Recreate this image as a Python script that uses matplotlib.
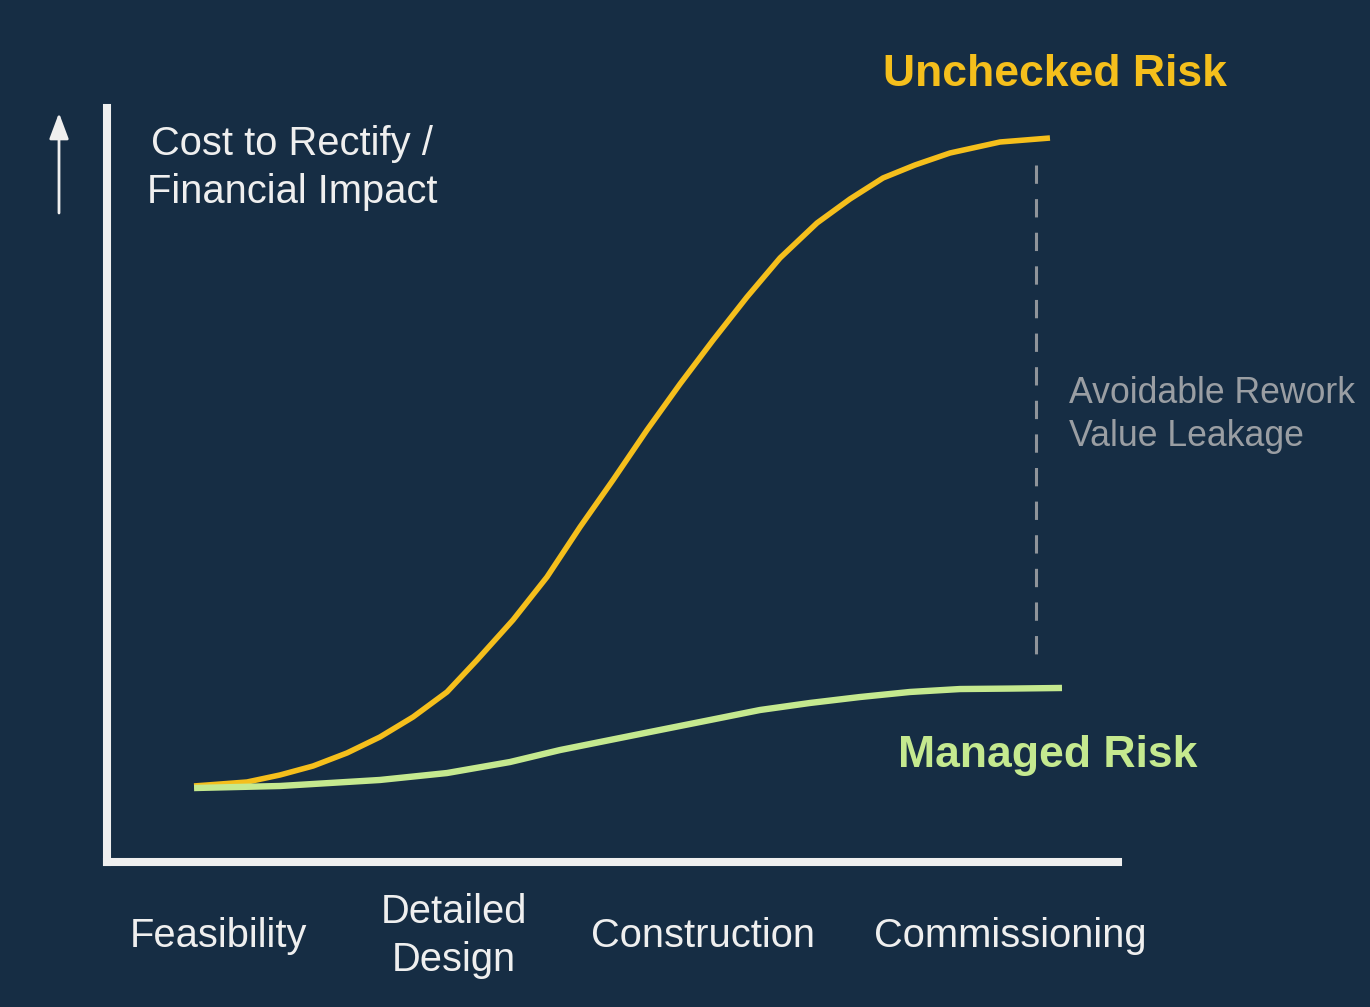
import matplotlib
matplotlib.use("Agg")
import matplotlib.pyplot as plt
from matplotlib.patches import FancyArrowPatch

# ---- data (project progress % vs cost index) ----
unchecked_x = [8.61, 13.85, 17.11, 20.38, 23.74, 27.00, 30.27, 33.63, 36.60, 40.16, 43.52, 46.79,
               50.05, 53.41, 56.68, 59.94, 63.30, 66.57, 70.23, 73.49, 76.76, 79.92, 83.38, 88.33, 93.27]
unchecked_y = [10.08, 10.61, 11.54, 12.73, 14.46, 16.58, 19.23, 22.55, 26.79, 32.10, 37.80, 44.43,
               50.66, 57.29, 63.40, 69.20, 74.93, 80.11, 84.75, 87.93, 90.72, 92.44, 94.03, 95.49, 96.02]

managed_x = [8.61, 17.11, 27.00, 33.63, 39.86, 44.81, 49.75, 54.70, 59.64, 64.59, 69.53, 74.48,
             79.43, 84.37, 89.32, 94.46]
managed_y = [9.81, 10.08, 10.88, 11.80, 13.26, 14.85, 16.18, 17.51, 18.83, 20.16, 21.09, 21.88,
             22.55, 22.94, 23.00, 23.08]

gap_x = [91.9, 91.9]
gap_y = [92.4, 26.8]

stages = ["Feasibility", "Detailed\nDesign", "Construction", "Commissioning"]
stage_x = [11.0, 34.3, 59.0, 89.3]

y_label = "Cost to Rectify /\nFinancial Impact"
gap_label = "Avoidable Rework\nValue Leakage"

# ---- styles ----
BG = "#162d44"
YELLOW = "#f5bf1c"
GREEN = "#c5e98f"
WHITE = "#efefef"
GREY = "#9a9ea3"
DASH = "#8f949a"
FONT = ["Liberation Sans", "DejaVu Sans"]

W, H = 1370, 1007
fig = plt.figure(figsize=(W / 100, H / 100), dpi=100, facecolor=BG)

def fx(px):
    return px / W

def fy(py):
    return 1 - py / H

left, right, bottom, top = 107, 1118, 862, 108
ax = fig.add_axes([fx(left), fy(bottom), (right - left) / W, (bottom - top) / H])
ax.set_facecolor(BG)
ax.set_xlim(0, 100)
ax.set_ylim(0, 100)
for s in ["top", "right"]:
    ax.spines[s].set_visible(False)
for s in ["left", "bottom"]:
    ax.spines[s].set_color(WHITE)
    ax.spines[s].set_linewidth(5.8)
    ax.spines[s].set_capstyle("projecting")
ax.set_xticks([])
ax.set_yticks([])

ax.plot(unchecked_x, unchecked_y, color=YELLOW, lw=4.0, solid_capstyle="butt",
        solid_joinstyle="round", zorder=3)
ax.plot(managed_x, managed_y, color=GREEN, lw=4.6, solid_capstyle="butt",
        solid_joinstyle="round", zorder=4)
ax.plot(gap_x, gap_y, color=DASH, lw=2.2, dashes=(6, 5), zorder=2)

# stage labels under the axis
for lab, x in zip(stages, stage_x):
    ax.text(x, -0.098, lab, transform=ax.get_xaxis_transform(), ha="center", va="center",
            color=WHITE, fontsize=28.7, family=FONT, linespacing=1.31,
            multialignment="center")

# y-axis label and arrow
fig.text(fx(292), fy(168), y_label, ha="center", va="center", color=WHITE,
         fontsize=28.7, family=FONT, linespacing=1.31, multialignment="center")
fig.add_artist(FancyArrowPatch(
    (fx(59), fy(213)), (fx(59), fy(113)), transform=fig.transFigure,
    arrowstyle="-|>,head_length=7.2,head_width=2.7", color=WHITE, lw=2,
    mutation_scale=2.2, shrinkA=0, shrinkB=0))

# series labels
fig.text(fx(1055), fy(74), "Unchecked Risk", ha="center", va="center", color=YELLOW,
         fontsize=32, fontweight="bold", family=FONT)
fig.text(fx(1048), fy(756), "Managed Risk", ha="center", va="center", color=GREEN,
         fontsize=32, fontweight="bold", family=FONT)

fig.text(fx(1069), fy(415), gap_label, ha="left", va="center", color=GREY,
         fontsize=25.7, family=FONT, linespacing=1.26)

fig.savefig("out.png", dpi=100, facecolor=BG)
